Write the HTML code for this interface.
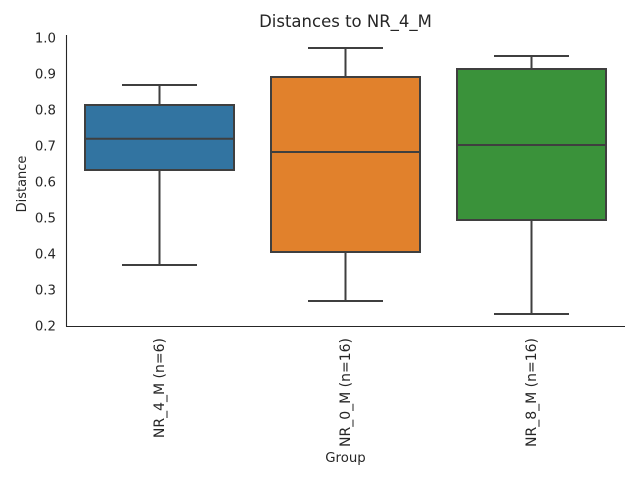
<!DOCTYPE html>
<html><head><meta charset="utf-8"><style>html,body{margin:0;padding:0;background:#fff}svg{display:block}</style></head>
<body>
<svg width="640" height="480" xmlns="http://www.w3.org/2000/svg" font-family="DejaVu Sans, Liberation Sans, sans-serif" fill="#262626">
<text x="345.5" y="27" font-size="16.5" text-anchor="middle">Distances to NR_4_M</text>
<g font-size="13.3" text-anchor="end">
<text x="56" y="42.5">1.0</text>
<text x="56" y="78.5">0.9</text>
<text x="56" y="114.5">0.8</text>
<text x="56" y="150.5">0.7</text>
<text x="56" y="186.5">0.6</text>
<text x="56" y="222.5">0.5</text>
<text x="56" y="258.5">0.4</text>
<text x="56" y="294.5">0.3</text>
<text x="56" y="330.5">0.2</text>
</g>
<text transform="translate(26,184) rotate(-90)" font-size="13" text-anchor="middle">Distance</text>
<text x="345.5" y="462" font-size="13.3" text-anchor="middle">Group</text>
<g font-size="14" text-anchor="end">
<text transform="translate(164,338) rotate(-90)">NR_4_M (n=6)</text>
<text transform="translate(350,338) rotate(-90)">NR_0_M (n=16)</text>
<text transform="translate(536,338) rotate(-90)">NR_8_M (n=16)</text>
</g>
<g stroke="#3f3f3f" stroke-width="2" fill="none">
<line x1="159.5" y1="85" x2="159.5" y2="105"/><line x1="159.5" y1="170" x2="159.5" y2="265"/>
<line x1="122" y1="85" x2="197" y2="85"/><line x1="122" y1="265" x2="197" y2="265"/>
<rect x="85" y="105" width="149" height="65" fill="#3274a1"/>
<line x1="85" y1="138.7" x2="234" y2="138.7"/>
<line x1="345.5" y1="48" x2="345.5" y2="77"/><line x1="345.5" y1="252" x2="345.5" y2="301"/>
<line x1="308" y1="48" x2="383" y2="48"/><line x1="308" y1="301" x2="383" y2="301"/>
<rect x="271" y="77" width="149" height="175" fill="#e1812c"/>
<line x1="271" y1="152" x2="420" y2="152"/>
<line x1="531.5" y1="56" x2="531.5" y2="69"/><line x1="531.5" y1="220" x2="531.5" y2="314"/>
<line x1="494" y1="56" x2="569" y2="56"/><line x1="494" y1="314" x2="569" y2="314"/>
<rect x="457" y="69" width="149" height="151" fill="#3a923a"/>
<line x1="457" y1="145" x2="606" y2="145"/>
</g>
<g stroke="#262626" stroke-width="1.1">
<line x1="66.5" y1="35" x2="66.5" y2="326.5"/>
<line x1="66" y1="326.5" x2="625" y2="326.5"/>
</g>
</svg>
</body></html>
